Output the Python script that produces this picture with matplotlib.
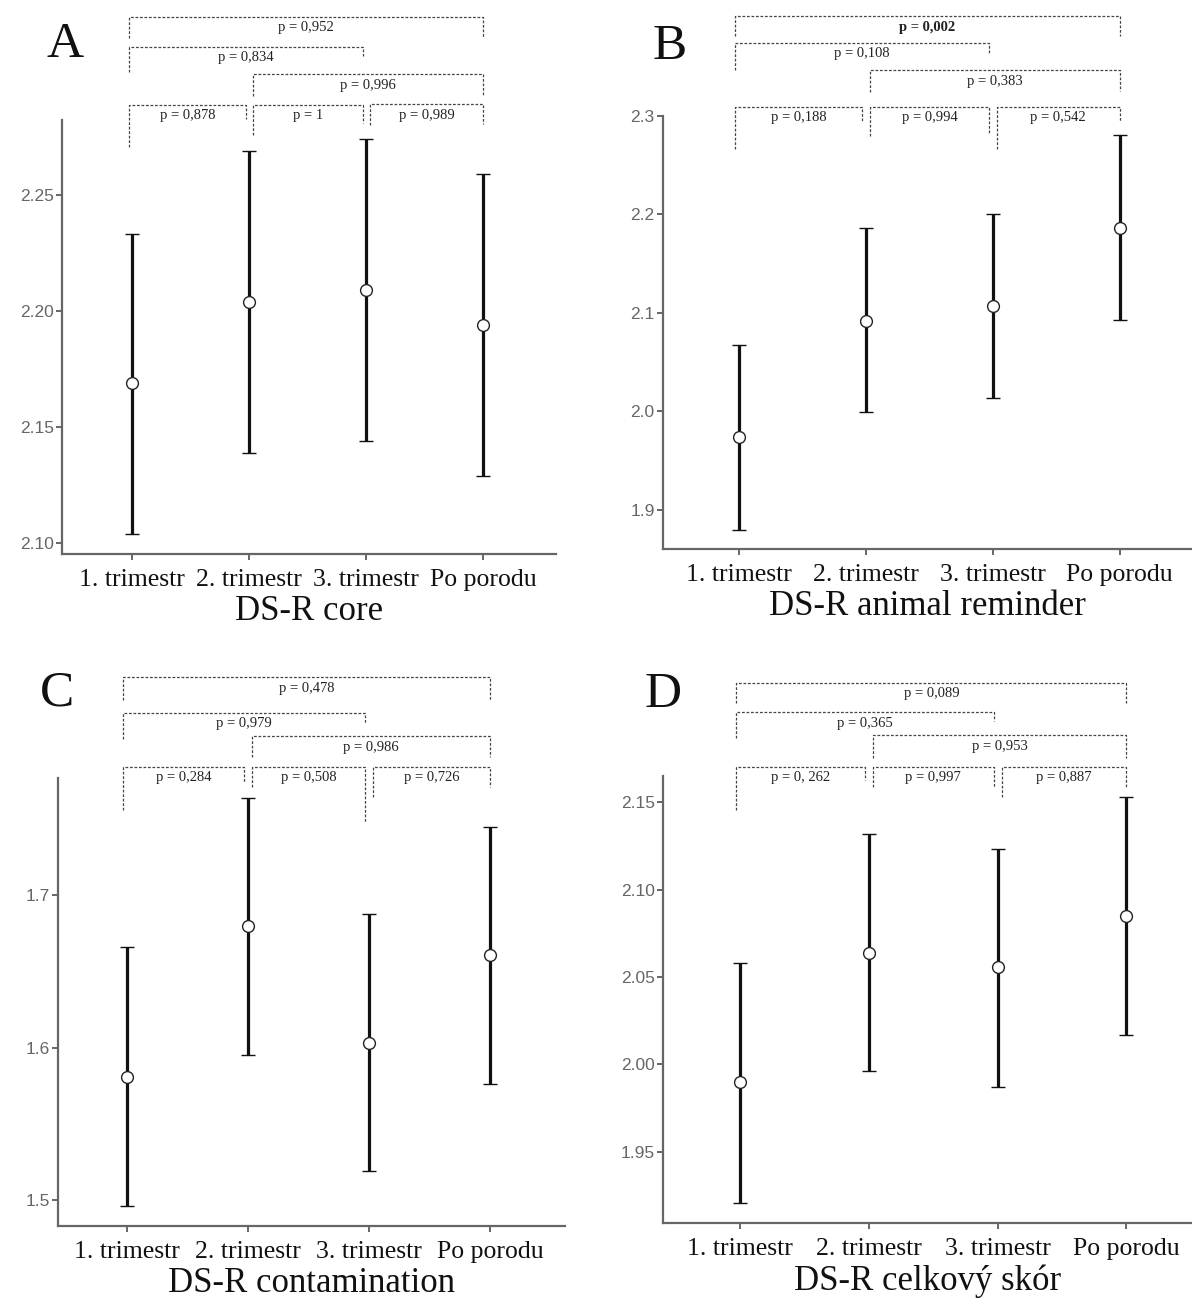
import matplotlib
matplotlib.use("Agg")
import matplotlib.pyplot as plt
from matplotlib.transforms import blended_transform_factory

# figure size in pixels (dpi 100)
W, H = 1192, 1299

# Data
groups = ["1. trimestr", "2. trimestr", "3. trimestr", "Po porodu"]

core_mean = [2.169, 2.204, 2.209, 2.194]
core_low = [2.104, 2.139, 2.144, 2.129]
core_high = [2.233, 2.269, 2.274, 2.259]

animal_mean = [1.974, 2.092, 2.107, 2.186]
animal_low = [1.880, 1.999, 2.014, 2.093]
animal_high = [2.068, 2.186, 2.201, 2.281]

contam_mean = [1.581, 1.680, 1.603, 1.661]
contam_low = [1.496, 1.595, 1.519, 1.576]
contam_high = [1.666, 1.764, 1.688, 1.745]

total_mean = [1.990, 2.064, 2.056, 2.085]
total_low = [1.921, 1.996, 1.987, 2.017]
total_high = [2.058, 2.132, 2.123, 2.153]

# comparisons (group i, group j) and p-values
pairs = [(0, 3), (0, 2), (1, 3), (0, 1), (1, 2), (2, 3)]
core_p = ["p = 0,952", "p = 0,834", "p = 0,996", "p = 0,878", "p = 1", "p = 0,989"]
animal_p = ["p = 0,002", "p = 0,108", "p = 0,383", "p = 0,188", "p = 0,994", "p = 0,542"]
contam_p = ["p = 0,478", "p = 0,979", "p = 0,986", "p = 0,284", "p = 0,508", "p = 0,726"]
total_p = ["p = 0,089", "p = 0,365", "p = 0,953", "p = 0, 262", "p = 0,997", "p = 0,887"]

# layout (pixels): axes box, y-limits, ticks, bracket geometry
panels = [
    dict(letter="A", lx=65, ly=45, box=(62, 556, 120, 554), ylim=(2.0953, 2.2823),
         ticks=[2.10, 2.15, 2.20, 2.25], fmt="%.2f", xlim=(-0.6, 3.62), title="DS-R core",
         mean=core_mean, low=core_low, high=core_high, p=core_p, bold=[],
         tops=[17, 47, 74, 105, 105, 104],
         legs=[(38, 38), (72, 56), (96, 96), (147, 119), (135, 123), (125, 124)]),
    dict(letter="B", lx=670, ly=47, box=(663, 1192, 116, 549), ylim=(1.8604, 2.30),
         ticks=[1.9, 2.0, 2.1, 2.2, 2.3], fmt="%.1f", xlim=(-0.6, 3.57),
         title="DS-R animal reminder",
         mean=animal_mean, low=animal_low, high=animal_high, p=animal_p, bold=[0],
         tops=[16, 43, 70, 107, 107, 107],
         legs=[(36, 36), (70, 53), (92, 91), (149, 121), (136, 134), (149, 122)]),
    dict(letter="C", lx=57, ly=693, box=(58, 565, 778, 1226), ylim=(1.483, 1.777),
         ticks=[1.5, 1.6, 1.7], fmt="%.1f", xlim=(-0.57, 3.62), title="DS-R contamination",
         mean=contam_mean, low=contam_low, high=contam_high, p=contam_p, bold=[],
         tops=[677, 713, 736, 767, 767, 767],
         legs=[(700, 700), (739, 723), (757, 757), (810, 782), (787, 823), (797, 787)]),
    dict(letter="D", lx=663, ly=695, box=(663, 1192, 776, 1223), ylim=(1.9094, 2.1649),
         ticks=[1.95, 2.00, 2.05, 2.10, 2.15], fmt="%.2f", xlim=(-0.6, 3.51),
         title="DS-R celkový skór",
         mean=total_mean, low=total_low, high=total_high, p=total_p, bold=[],
         tops=[683, 712, 735, 767, 767, 767],
         legs=[(703, 703), (738, 721), (758, 758), (810, 780), (787, 787), (797, 787)]),
]

serif = ["Liberation Serif", "DejaVu Serif"]
sans = ["Liberation Sans", "DejaVu Sans"]
grey = "#666666"

fig = plt.figure(figsize=(W / 100, H / 100), dpi=100)

def fy(p):
    return 1 - p / H

for pan in panels:
    l, r, t, b = pan["box"]
    ax = fig.add_axes([l / W, 1 - b / H, (r - l) / W, (b - t) / H])
    x = list(range(len(groups)))
    m = pan["mean"]
    err = [[mi - lo for mi, lo in zip(m, pan["low"])],
           [hi - mi for mi, hi in zip(m, pan["high"])]]
    ax.errorbar(x, m, yerr=err, fmt="o", color="#111111", ecolor="#111111",
                elinewidth=2.3, capsize=5, capthick=2.0, markersize=8.5,
                markerfacecolor="white", markeredgecolor="#222222", markeredgewidth=1.0,
                zorder=3)
    ax.set_xlim(*pan["xlim"])
    ax.set_ylim(*pan["ylim"])
    ax.set_yticks(pan["ticks"])
    ax.set_yticklabels([pan["fmt"] % v for v in pan["ticks"]], family=sans,
                       fontsize=12.5, color=grey)
    ax.set_xticks(x)
    ax.set_xticklabels(groups, family=serif, fontsize=18.5, color="#111111")
    ax.set_xlabel(pan["title"], family=serif, fontsize=25, color="#111111", labelpad=3)
    for s in ["top", "right"]:
        ax.spines[s].set_visible(False)
    for s in ["left", "bottom"]:
        ax.spines[s].set_color(grey)
        ax.spines[s].set_linewidth(1.6)
    ax.tick_params(axis="both", color=grey, length=4, width=1.4, pad=2)
    ax.tick_params(axis="x", pad=7)

    # significance brackets above the plot
    tr = blended_transform_factory(ax.transData, fig.transFigure)
    for k, ((i, j), lab) in enumerate(zip(pairs, pan["p"])):
        top = pan["tops"][k]
        l1, l2 = pan["legs"][k]
        x1 = i - 0.03 if i == 0 else i + 0.03
        x2 = j if j == 3 else j - 0.03
        ax.plot([x1, x1, x2, x2], [fy(l1), fy(top), fy(top), fy(l2)], transform=tr,
                clip_on=False, color="#444444", lw=0.9, linestyle=(0, (2.2, 1.4)))
        ax.text((x1 + x2) / 2, fy(top + 11), lab, transform=tr, ha="center", va="center",
                family=serif, fontsize=10.5, color="#222222",
                fontweight="bold" if k in pan["bold"] else "normal")

    fig.text(pan["lx"] / W, fy(pan["ly"]), pan["letter"], family=serif, fontsize=37,
             ha="center", va="center", color="#111111")

fig.savefig("out.png", dpi=100)
